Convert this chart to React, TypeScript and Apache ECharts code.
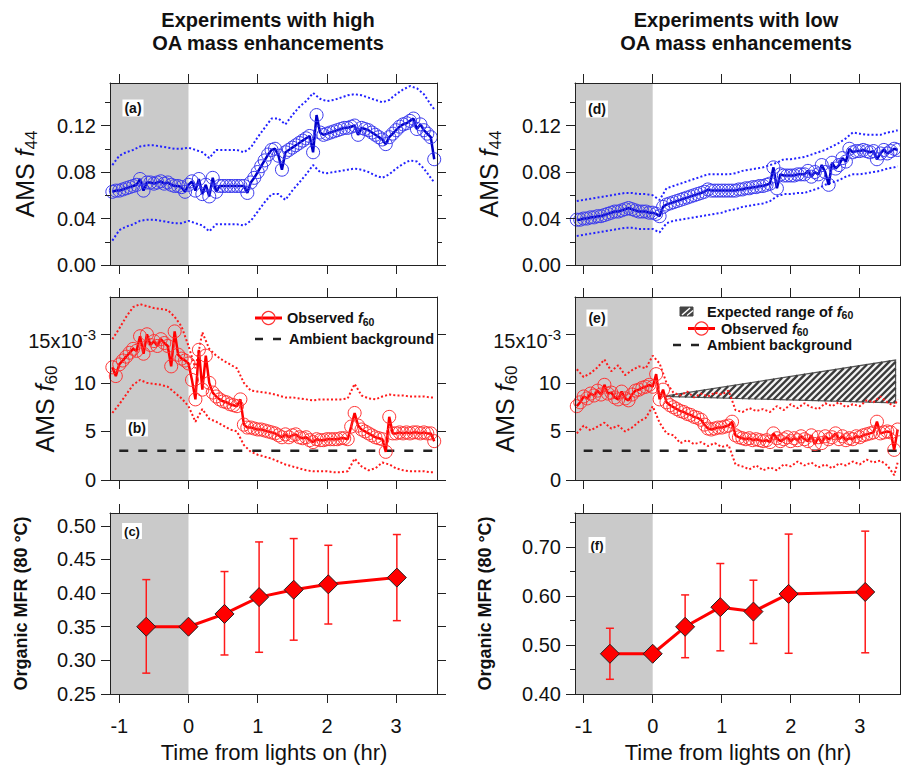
import React, { useEffect, useRef } from "react";
import * as echarts from "echarts";

const FONT = "'Liberation Sans', Arial, Helvetica, sans-serif";

// ---------- time grids (hr from lights on) ----------
const tFine = [
  -1.10, -1.05, -1.00, -0.95, -0.90, -0.85, -0.80, -0.75, -0.70, -0.65,
  -0.60, -0.55, -0.50, -0.45, -0.40, -0.35, -0.30, -0.25, -0.20, -0.15,
  -0.10, -0.05, 0.00, 0.05, 0.10, 0.15, 0.20, 0.25, 0.30, 0.35,
  0.40, 0.45, 0.50, 0.55, 0.60, 0.65, 0.70, 0.75, 0.80, 0.85,
  0.90, 0.95, 1.00, 1.05, 1.10, 1.15, 1.20, 1.25, 1.30, 1.35,
  1.40, 1.45, 1.50, 1.55, 1.60, 1.65, 1.70, 1.75, 1.80, 1.85,
  1.90, 1.95, 2.00, 2.05, 2.10, 2.15, 2.20, 2.25, 2.30, 2.35,
  2.40, 2.45, 2.50, 2.55, 2.60, 2.65, 2.70, 2.75, 2.80, 2.85,
  2.90, 2.95, 3.00, 3.05, 3.10, 3.15, 3.20, 3.25, 3.30, 3.35,
  3.40, 3.45, 3.50, 3.55,
];
const tCoarse = [
  -1.1, -1.0, -0.9, -0.8, -0.7, -0.6, -0.5, -0.4, -0.3, -0.2,
  -0.1, 0.0, 0.1, 0.2, 0.3, 0.4, 0.5, 0.6, 0.7, 0.8,
  0.9, 1.0, 1.1, 1.2, 1.3, 1.4, 1.5, 1.6, 1.7, 1.8,
  1.9, 2.0, 2.1, 2.2, 2.3, 2.4, 2.5, 2.6, 2.7, 2.8,
  2.9, 3.0, 3.1, 3.2, 3.3, 3.4, 3.5,
  3.55,
];

// ---------- (a) f44, high OA ----------
const f44High = [
  0.063, 0.064, 0.064, 0.065, 0.066, 0.067, 0.068, 0.069, 0.074, 0.064,
  0.071, 0.071, 0.070, 0.071, 0.072, 0.070, 0.071, 0.069, 0.068, 0.068,
  0.067, 0.063, 0.069, 0.072, 0.064, 0.074, 0.061, 0.069, 0.059, 0.075,
  0.063, 0.068, 0.068, 0.068, 0.068, 0.068, 0.068, 0.068, 0.068, 0.062,
  0.071, 0.075, 0.080, 0.085, 0.090, 0.095, 0.099, 0.100, 0.094, 0.082,
  0.097, 0.099, 0.101, 0.103, 0.105, 0.107, 0.109, 0.111, 0.097, 0.129,
  0.114, 0.112, 0.113, 0.114, 0.115, 0.116, 0.117, 0.118, 0.118, 0.119,
  0.120, 0.112, 0.118, 0.117, 0.116, 0.114, 0.112, 0.110, 0.108, 0.104,
  0.110, 0.113, 0.116, 0.119, 0.121, 0.122, 0.124, 0.126, 0.117, 0.121,
  0.116, 0.113, 0.110, 0.091,
];
const f44HighUpper = [
  0.086, 0.094, 0.097, 0.099, 0.102, 0.103, 0.103, 0.102, 0.101, 0.100,
  0.100, 0.101, 0.099, 0.097, 0.092, 0.099, 0.099, 0.099, 0.099, 0.097,
  0.101, 0.110, 0.118, 0.126, 0.126, 0.121, 0.129, 0.136, 0.141, 0.148,
  0.143, 0.141, 0.142, 0.144, 0.146, 0.147, 0.146, 0.144, 0.142, 0.140,
  0.142, 0.147, 0.151, 0.154, 0.152, 0.147, 0.138,
  0.134,
];
const f44HighLower = [
  0.021, 0.030, 0.033, 0.035, 0.038, 0.039, 0.039, 0.038, 0.037, 0.036,
  0.036, 0.038, 0.036, 0.034, 0.029, 0.035, 0.035, 0.035, 0.035, 0.034,
  0.038, 0.046, 0.054, 0.061, 0.061, 0.056, 0.064, 0.071, 0.078, 0.086,
  0.080, 0.079, 0.080, 0.081, 0.082, 0.083, 0.082, 0.080, 0.077, 0.075,
  0.078, 0.083, 0.087, 0.090, 0.089, 0.083, 0.075,
  0.071,
];

// ---------- (b) f60 (x10^-3), high OA ----------
const f60High = [
  11.6, 10.7, 11.9, 12.3, 12.7, 13.1, 13.5, 13.3, 14.8, 13.0,
  15.0, 13.9, 14.3, 13.8, 14.5, 14.1, 13.8, 11.7, 15.3, 12.9,
  12.5, 12.3, 12.0, 10.3, 8.3, 13.4, 9.3, 12.8, 10.0, 9.0,
  8.6, 8.3, 8.1, 8.0, 7.8, 7.7, 7.6, 8.3, 5.7, 5.4,
  5.4, 5.3, 5.2, 5.2, 5.1, 5.0, 4.9, 4.8, 4.6, 4.4,
  4.7, 4.4, 4.6, 4.7, 4.4, 4.3, 4.4, 4.1, 3.9, 4.2,
  4.1, 4.1, 4.2, 4.2, 4.2, 4.2, 4.3, 4.3, 4.2, 5.5,
  6.9, 5.6, 5.2, 5.0, 4.8, 4.6, 4.4, 4.3, 4.2, 2.9,
  6.5, 4.8, 4.8, 4.9, 4.8, 4.9, 4.8, 4.9, 4.9, 4.8,
  4.9, 4.8, 4.8, 4.0,
];
const f60HighUpper = [
  14.5, 15.6, 16.8, 17.8, 18.1, 17.9, 17.7, 17.6, 17.5, 16.8,
  15.8, 13.8, 11.5, 15.2, 13.5, 12.8, 12.3, 11.9, 11.5, 10.0,
  9.2, 9.1, 9.0, 8.9, 8.7, 8.5, 8.5, 8.4, 8.3, 8.2,
  8.3, 8.3, 8.3, 8.3, 8.4, 9.9, 8.7, 8.4, 8.3, 8.6,
  8.8, 8.7, 8.7, 8.6, 8.6, 8.6, 8.5,
  8.5,
];
const f60HighLower = [
  6.9, 7.8, 8.8, 9.8, 10.3, 10.0, 9.9, 9.8, 9.6, 9.0,
  8.4, 7.6, 6.0, 7.3, 6.3, 6.0, 5.6, 5.2, 5.0, 3.6,
  2.9, 2.6, 2.4, 2.2, 1.9, 1.6, 1.4, 1.2, 1.0, 0.9,
  0.9, 0.9, 0.8, 0.8, 0.9, 2.2, 1.4, 1.0, 1.2, 1.8,
  1.6, 1.2, 1.0, 0.9, 0.9, 0.9, 0.8,
  0.8,
];

// ---------- (d) f44, low OA ----------
const f44Low = [
  0.039, 0.039, 0.040, 0.040, 0.041, 0.041, 0.042, 0.042, 0.043, 0.044,
  0.045, 0.046, 0.046, 0.047, 0.048, 0.049, 0.048, 0.047, 0.046, 0.046,
  0.046, 0.045, 0.045, 0.044, 0.042, 0.050, 0.052, 0.053, 0.054, 0.055,
  0.056, 0.057, 0.058, 0.059, 0.060, 0.061, 0.062, 0.063, 0.065, 0.064,
  0.064, 0.064, 0.064, 0.064, 0.064, 0.064, 0.064, 0.065, 0.065, 0.066,
  0.066, 0.067, 0.067, 0.068, 0.068, 0.069, 0.070, 0.084, 0.066, 0.078,
  0.077, 0.077, 0.077, 0.077, 0.078, 0.078, 0.078, 0.081, 0.076, 0.080,
  0.078, 0.086, 0.080, 0.069, 0.088, 0.083, 0.086, 0.092, 0.089, 0.100,
  0.097, 0.098, 0.098, 0.099, 0.098, 0.097, 0.098, 0.091, 0.096, 0.099,
  0.096, 0.098, 0.100, 0.099,
];
const f44LowUpper = [
  0.055, 0.056, 0.057, 0.058, 0.059, 0.060, 0.061, 0.062, 0.062, 0.061,
  0.061, 0.060, 0.056, 0.066, 0.068, 0.070, 0.072, 0.074, 0.076, 0.078,
  0.078, 0.078, 0.078, 0.079, 0.081, 0.082, 0.083, 0.084, 0.086, 0.088,
  0.091, 0.091, 0.092, 0.093, 0.095, 0.097, 0.099, 0.102, 0.105, 0.109,
  0.114, 0.113, 0.112, 0.112, 0.112, 0.114, 0.115,
  0.116,
];
const f44LowLower = [
  0.025, 0.026, 0.027, 0.028, 0.029, 0.030, 0.031, 0.032, 0.032, 0.031,
  0.031, 0.031, 0.028, 0.036, 0.038, 0.039, 0.040, 0.041, 0.042, 0.043,
  0.044, 0.045, 0.047, 0.048, 0.050, 0.051, 0.052, 0.053, 0.055, 0.059,
  0.061, 0.061, 0.062, 0.062, 0.064, 0.066, 0.069, 0.071, 0.073, 0.076,
  0.078, 0.078, 0.079, 0.080, 0.081, 0.083, 0.084,
  0.085,
];

// ---------- (e) f60 (x10^-3), low OA ----------
const f60Low = [
  7.6, 8.0, 8.6, 8.4, 8.9, 8.7, 9.2, 8.8, 9.8, 8.9,
  9.0, 8.5, 8.3, 9.1, 8.4, 8.2, 8.8, 9.2, 9.3, 9.5,
  9.6, 9.8, 9.6, 10.9, 8.3, 9.3, 8.0, 7.7, 7.5, 7.3,
  7.1, 7.0, 6.8, 6.7, 6.5, 6.4, 6.2, 5.7, 5.3, 5.2,
  5.3, 5.4, 5.4, 5.5, 5.6, 6.0, 4.6, 4.4, 4.3, 4.2,
  4.3, 4.1, 4.2, 4.1, 4.0, 4.1, 3.9, 4.8, 4.3, 4.0,
  4.2, 4.4, 4.0, 4.3, 4.1, 4.5, 4.2, 4.0, 4.6, 3.7,
  4.4, 3.8, 4.5, 4.2, 4.4, 4.8, 4.2, 4.5, 4.1, 4.3,
  4.2, 4.5, 4.4, 4.6, 4.7, 4.8, 4.9, 6.0, 4.8, 4.9,
  5.0, 4.9, 3.1, 5.2,
];
const f60LowUpper = [
  11.4, 10.6, 11.0, 11.6, 12.4, 11.2, 11.8, 10.8, 11.3, 11.7,
  11.5, 12.8, 12.0, 10.0, 9.0, 8.7, 9.1, 8.5, 8.9, 8.6,
  9.0, 8.8, 9.2, 7.2, 7.0, 7.4, 7.1, 7.3, 7.0, 7.6,
  7.2, 7.8, 7.4, 7.9, 7.5, 7.3, 7.9, 7.6, 8.0, 7.5,
  7.8, 7.6, 8.2, 8.0, 8.6, 8.0, 7.6,
  8.3,
];
const f60LowLower = [
  4.8, 5.6, 5.1, 5.5, 5.9, 5.3, 5.6, 5.0, 5.4, 6.0,
  6.4, 7.6, 5.9, 4.8, 4.6, 3.8, 4.1, 3.7, 3.9, 3.5,
  3.8, 3.4, 3.6, 1.6, 1.4, 1.1, 1.5, 1.0, 1.3, 1.0,
  1.6, 1.4, 1.9, 1.5, 1.8, 1.3, 1.6, 1.2, 1.7, 1.5,
  1.9, 1.6, 2.1, 1.8, 2.0, 1.5, 0.5,
  1.8,
];

// ambient background level of f60 (x10^-3)
const ambientT = [-1.0, 3.6];
const ambientHigh = [3.0, 3.0];
const ambientLow = [3.0, 3.0];

// expected range of f60 (triangle): start point, end top, end bottom
const expectedStart = [0.15, 8.6];
const expectedEnd = [3.52, 12.35, 7.94];

// ---------- (c) / (f) Organic MFR ----------
const mfrHighT = [-0.61, 0.0, 0.52, 1.02, 1.52, 2.02, 3.01];
const mfrHigh = [0.350, 0.350, 0.369, 0.394, 0.405, 0.413, 0.423];
const mfrHighLo = [0.281, null, 0.308, 0.312, 0.330, 0.354, 0.359];
const mfrHighHi = [0.420, null, 0.432, 0.476, 0.481, 0.471, 0.487];

const mfrLowT = [-0.62, 0.0, 0.47, 0.98, 1.46, 1.97, 3.08];
const mfrLow = [0.482, 0.482, 0.537, 0.577, 0.568, 0.604, 0.608];
const mfrLowLo = [0.430, null, 0.474, 0.488, 0.503, 0.483, 0.484];
const mfrLowHi = [0.534, null, 0.602, 0.666, 0.632, 0.726, 0.732];

// ---------- ticks ----------
const xTicks = [-1, 0, 1, 2, 3];
const f44Ticks = [0, 0.04, 0.08, 0.12];
const f44Minor = [0.02, 0.06, 0.1, 0.14];
const f60Ticks = [0, 5, 10, 15];
const mfrHighTicks = [0.25, 0.3, 0.35, 0.4, 0.45, 0.5];
const mfrLowTicks = [0.4, 0.5, 0.6, 0.7];
const mfrLowMinor = [0.45, 0.55, 0.65, 0.75];

const GRAY = "#cacaca";
const AX = "#222";
const BLUE_LINE = "#0000c8";
const BLUE_SYM = "#3a3aee";
const BLUE_DOT = "#2222ff";
const RED_LINE = "#ff0000";
const RED_SYM = "#ff3333";
const RED_DOT = "#ff1a1a";

const zip = (xs: number[], ys: (number | null)[]) => xs.map((x, i) => [x, ys[i]]);

function buildOption() {
  const xRangeL = [-1.134, 3.59];
  const xRangeR = [-1.126, 3.584];
  const grids = [
    { left: 110, top: 83, width: 327, height: 182 },
    { left: 110, top: 297, width: 327, height: 183 },
    { left: 110, top: 513, width: 327, height: 181 },
    { left: 575, top: 83, width: 325, height: 182 },
    { left: 575, top: 297, width: 325, height: 183 },
    { left: 575, top: 513, width: 325, height: 181 },
  ];
  const fmt2 = (v: number) => v.toFixed(2);
  const fmt60 = (v: number) => (v === 15 ? "{m|15x10}{sup|-3}" : String(v));
  const yCfg = [
    { min: 0, max: 0.1566, major: f44Ticks, minor: f44Minor, fmt: fmt2 },
    { min: 0, max: 18.84, major: f60Ticks, minor: [], fmt: fmt60 },
    { min: 0.25, max: 0.519, major: mfrHighTicks, minor: [], fmt: fmt2 },
    { min: 0, max: 0.1566, major: f44Ticks, minor: f44Minor, fmt: fmt2 },
    { min: 0, max: 18.84, major: f60Ticks, minor: [], fmt: fmt60 },
    { min: 0.4, max: 0.769, major: mfrLowTicks, minor: mfrLowMinor, fmt: fmt2 },
  ];
  const lineStyle = { color: AX, width: 1 };
  const labelRich = {
    m: { fontSize: 20, fontFamily: FONT, color: "#111", lineHeight: 20, verticalAlign: "bottom" },
    sup: { fontSize: 15, fontFamily: FONT, color: "#111", lineHeight: 33 },
  };

  const xAxis: any[] = [];
  const yAxis: any[] = [];
  grids.forEach((_, g) => {
    const range = g < 3 ? xRangeL : xRangeR;
    const showLabels = g === 2 || g === 5;
    const base = {
      type: "value", gridIndex: g, min: range[0], max: range[1], z: 10,
      splitLine: { show: false },
      axisLine: { show: true, onZero: false, lineStyle },
    };
    xAxis.push({
      ...base, position: "bottom",
      axisTick: { show: true, inside: false, length: 9, lineStyle, customValues: xTicks },
      axisLabel: {
        show: showLabels, customValues: xTicks, margin: 22, fontSize: 20,
        fontFamily: FONT, color: "#111", formatter: (v: number) => String(v),
      },
    });
    xAxis.push({
      ...base, position: "top",
      axisTick: { show: true, inside: false, length: 9, lineStyle, customValues: xTicks },
      axisLabel: { show: false },
    });
    const c = yCfg[g];
    const yb = {
      type: "value", gridIndex: g, min: c.min, max: c.max, z: 10,
      splitLine: { show: false },
    };
    const hasMinor = c.minor.length > 0;
    yAxis.push({
      ...yb, position: "left",
      axisLine: { show: true, onZero: false, lineStyle },
      axisTick: { show: true, inside: false, length: 9, lineStyle, customValues: c.major },
      axisLabel: {
        show: true, customValues: c.major, formatter: c.fmt, margin: 14,
        fontSize: 20, fontFamily: FONT, color: "#111", rich: labelRich,
      },
    });
    yAxis.push({
      ...yb, position: "left",
      axisLine: { show: false, onZero: false },
      axisTick: { show: hasMinor, inside: false, length: 5, lineStyle, customValues: hasMinor ? c.minor : c.major },
      axisLabel: { show: false },
    });
    yAxis.push({
      ...yb, position: "right",
      axisLine: { show: true, onZero: false, lineStyle },
      axisTick: { show: true, inside: false, length: 9, lineStyle, customValues: c.major },
      axisLabel: { show: false },
    });
    yAxis.push({
      ...yb, position: "right",
      axisLine: { show: false, onZero: false },
      axisTick: { show: hasMinor, inside: false, length: 5, lineStyle, customValues: hasMinor ? c.minor : c.major },
      axisLabel: { show: false },
    });
  });

  const shade = (g: number) => ({
    type: "line", xAxisIndex: 2 * g, yAxisIndex: 4 * g, data: [], silent: true, z: 1,
    markArea: {
      silent: true, itemStyle: { color: GRAY },
      data: [[{ xAxis: g < 3 ? xRangeL[0] : xRangeR[0] }, { xAxis: 0 }]],
    },
  });
  const bound = (g: number, vs: number[], color: string) => ({
    type: "line", xAxisIndex: 2 * g, yAxisIndex: 4 * g, data: zip(tCoarse, vs),
    symbol: "none", showSymbol: false, silent: true, z: 3,
    lineStyle: { color, width: 2, type: [2, 2.2] },
  });
  const main = (g: number, vs: number[], lc: string, sc: string) => ({
    type: "line", xAxisIndex: 2 * g, yAxisIndex: 4 * g, data: zip(tFine, vs),
    symbol: "circle", symbolSize: 13, showSymbol: true, silent: true, z: 4,
    itemStyle: { color: "rgba(0,0,0,0)", borderColor: sc, borderWidth: 1 },
    lineStyle: { color: lc, width: 2.5 },
  });
  const ambient = (g: number, vs: number[]) => ({
    type: "line", xAxisIndex: 2 * g, yAxisIndex: 4 * g, data: zip(ambientT, vs),
    symbol: "none", silent: true, z: 3,
    lineStyle: { color: "#222", width: 2.5, type: [9, 10] },
  });
  const errBars = (g: number, ts: number[], lo: (number | null)[], hi: (number | null)[]) => ({
    type: "custom", xAxisIndex: 2 * g, yAxisIndex: 4 * g, silent: true, z: 3,
    data: ts.map((t, i) => [t, lo[i], hi[i]]).filter((d) => d[1] != null),
    encode: { x: 0, y: [1, 2] },
    renderItem: (_p: any, api: any) => {
      const x = api.value(0);
      const a = api.coord([x, api.value(1)]);
      const b = api.coord([x, api.value(2)]);
      const w = 4;
      const st = { stroke: "#ff1a1a", lineWidth: 1.5 };
      return {
        type: "group",
        children: [
          { type: "line", shape: { x1: a[0], y1: a[1], x2: b[0], y2: b[1] }, style: st },
          { type: "line", shape: { x1: a[0] - w, y1: a[1], x2: a[0] + w, y2: a[1] }, style: st },
          { type: "line", shape: { x1: b[0] - w, y1: b[1], x2: b[0] + w, y2: b[1] }, style: st },
        ],
      };
    },
  });
  const mfrLine = (g: number, ts: number[], vs: number[]) => ({
    type: "line", xAxisIndex: 2 * g, yAxisIndex: 4 * g, data: zip(ts, vs),
    symbol: "diamond", symbolSize: 19, showSymbol: true, silent: true, z: 4,
    itemStyle: { color: "#ff0000", borderColor: "#222", borderWidth: 1 },
    lineStyle: { color: "#ff0000", width: 3 },
  });
  const hatch = (g: number) => ({
    type: "custom", xAxisIndex: 2 * g, yAxisIndex: 4 * g, silent: true, z: 2,
    data: [[expectedStart[0], expectedStart[1], expectedEnd[0], expectedEnd[1], expectedEnd[2]]],
    encode: { x: [0, 2], y: [1, 3, 4] },
    renderItem: (_p: any, api: any) => {
      const A = api.coord([api.value(0), api.value(1)]);
      const B = api.coord([api.value(2), api.value(3)]);
      const C = api.coord([api.value(2), api.value(4)]);
      const pts = [A, B, C];
      const sums = pts.map((p: number[]) => p[0] + p[1]);
      const cMin = Math.min(...sums);
      const cMax = Math.max(...sums);
      const children: any[] = [
        { type: "polygon", shape: { points: pts }, style: { fill: "#f4f4f4", stroke: "#555", lineWidth: 1.2 } },
      ];
      for (let c = cMin + 3; c < cMax; c += 6.5) {
        const hits: number[][] = [];
        for (let i = 0; i < 3; i++) {
          const P = pts[i];
          const Q = pts[(i + 1) % 3];
          const fp = P[0] + P[1] - c;
          const fq = Q[0] + Q[1] - c;
          if ((fp <= 0 && fq > 0) || (fp > 0 && fq <= 0)) {
            const t = fp / (fp - fq);
            hits.push([P[0] + t * (Q[0] - P[0]), P[1] + t * (Q[1] - P[1])]);
          }
        }
        if (hits.length >= 2) {
          children.push({
            type: "line",
            shape: { x1: hits[0][0], y1: hits[0][1], x2: hits[1][0], y2: hits[1][1] },
            style: { stroke: "#3a3a3a", lineWidth: 2.3 },
          });
        }
      }
      return { type: "group", children };
    },
  });

  const series: any[] = [
    // (a)
    shade(0), bound(0, f44HighUpper, BLUE_DOT), bound(0, f44HighLower, BLUE_DOT),
    main(0, f44High, BLUE_LINE, BLUE_SYM),
    // (b)
    shade(1), ambient(1, ambientHigh), bound(1, f60HighUpper, RED_DOT), bound(1, f60HighLower, RED_DOT),
    main(1, f60High, RED_LINE, RED_SYM),
    // (c)
    shade(2), errBars(2, mfrHighT, mfrHighLo, mfrHighHi), mfrLine(2, mfrHighT, mfrHigh),
    // (d)
    shade(3), bound(3, f44LowUpper, BLUE_DOT), bound(3, f44LowLower, BLUE_DOT),
    main(3, f44Low, BLUE_LINE, BLUE_SYM),
    // (e)
    shade(4), hatch(4), ambient(4, ambientLow), bound(4, f60LowUpper, RED_DOT), bound(4, f60LowLower, RED_DOT),
    main(4, f60Low, RED_LINE, RED_SYM),
    // (f)
    shade(5), errBars(5, mfrLowT, mfrLowLo, mfrLowHi), mfrLine(5, mfrLowT, mfrLow),
  ];

  const nameRich = (size: number, sub: number) => ({
    n: { fontSize: size, fontFamily: FONT, fill: "#111", lineHeight: size + 4 },
    i: { fontSize: size, fontFamily: FONT, fill: "#111", lineHeight: size + 4, fontStyle: "italic" },
    s: { fontSize: sub, fontFamily: FONT, fill: "#111", lineHeight: 11, verticalAlign: "bottom" },
  });
  const legRich = {
    b: { fontSize: 14.5, fontWeight: "bold", fontFamily: FONT, fill: "#111", lineHeight: 18 },
    i: { fontSize: 14.5, fontWeight: "bold", fontStyle: "italic", fontFamily: FONT, fill: "#111", lineHeight: 18 },
    s: { fontSize: 10.5, fontWeight: "bold", fontFamily: FONT, fill: "#111", lineHeight: 8, verticalAlign: "bottom" },
  };
  const yName = (x: number, y: number, text: string) => ({
    type: "text", x, y, rotation: Math.PI / 2, z: 20,
    style: { text, rich: nameRich(25, 17), align: "center", verticalAlign: "middle", fill: "#111" },
  });
  const mfrName = (x: number, y: number) => ({
    type: "text", x, y, rotation: Math.PI / 2, z: 20,
    style: {
      text: "Organic MFR (80 °C)", fontSize: 18, fontWeight: "bold", fontFamily: FONT,
      align: "center", verticalAlign: "middle", fill: "#111",
    },
  });
  const panelLabel = (x: number, y: number, text: string, size: number) => ({
    type: "text", x, y, z: 20,
    style: {
      text, fontSize: size, fontWeight: "bold", fontFamily: FONT, fill: "#111",
      align: "center", verticalAlign: "middle", backgroundColor: "#fff", padding: [2, 2, 1, 2],
    },
  });
  const title = (x: number, text: string) => ({
    type: "text", x, y: 31.5, z: 20,
    style: {
      text, fontSize: 20, fontWeight: "bold", fontFamily: FONT, fill: "#111",
      align: "center", verticalAlign: "middle", lineHeight: 23,
    },
  });
  const xName = (x: number) => ({
    type: "text", x, y: 752, z: 20,
    style: {
      text: "Time from lights on (hr)", fontSize: 22, fontFamily: FONT, fill: "#111",
      align: "center", verticalAlign: "middle",
    },
  });
  const legText = (x: number, y: number, text: string) => ({
    type: "text", x, y, z: 20,
    style: { text, rich: legRich, align: "left", verticalAlign: "middle" },
  });
  const obsIcon = (x1: number, x2: number, y: number) => [
    { type: "line", z: 20, shape: { x1, y1: y, x2, y2: y }, style: { stroke: "#ff0000", lineWidth: 3 } },
    { type: "circle", z: 21, shape: { cx: (x1 + x2) / 2, cy: y, r: 6.5 }, style: { fill: "none", stroke: "#ff3333", lineWidth: 1.2 } },
  ];
  const dashIcon = (x1: number, x2: number, y: number) => ({
    type: "line", z: 20, shape: { x1, y1: y, x2, y2: y },
    style: { stroke: "#222", lineWidth: 2.5, lineDash: [8, 10] },
  });

  const graphic: any[] = [
    title(268, "Experiments with high\nOA mass enhancements"),
    title(736, "Experiments with low\nOA mass enhancements"),
    yName(25, 174, "{n|AMS }{i|f}{s|44}"),
    yName(489, 174, "{n|AMS }{i|f}{s|44}"),
    yName(45, 409, "{n|AMS }{i|f}{s|60}"),
    yName(505, 409, "{n|AMS }{i|f}{s|60}"),
    mfrName(21, 603.5),
    mfrName(485, 603.5),
    xName(274),
    xName(738),
    panelLabel(133, 108, "(a)", 14),
    panelLabel(137, 428, "(b)", 14),
    panelLabel(132, 531, "(c)", 13),
    panelLabel(597, 109, "(d)", 14),
    panelLabel(597, 318, "(e)", 14),
    panelLabel(597, 545, "(f)", 13),
    // legend (b)
    ...obsIcon(255, 282, 318),
    legText(287, 318, "{b|Observed }{i|f}{s|60}"),
    dashIcon(255, 282, 339),
    legText(289, 339, "{b|Ambient background}"),
    // legend (e)
    { type: "rect", z: 20, shape: { x: 680, y: 307, width: 13, height: 9 }, style: { fill: "#444", stroke: "#444", lineWidth: 1 } },
    { type: "line", z: 21, shape: { x1: 682, y1: 315, x2: 690, y2: 308 }, style: { stroke: "#fff", lineWidth: 1.5 } },
    { type: "line", z: 21, shape: { x1: 687, y1: 315.5, x2: 693, y2: 310.5 }, style: { stroke: "#fff", lineWidth: 1.2 } },
    legText(707, 311.5, "{b|Expected range of }{i|f}{s|60}"),
    ...obsIcon(688, 715, 328.5),
    legText(721, 328.5, "{b|Observed }{i|f}{s|60}"),
    dashIcon(673, 700, 345),
    legText(707, 345, "{b|Ambient background}"),
  ];

  return {
    animation: false,
    backgroundColor: "#ffffff",
    grid: grids,
    xAxis,
    yAxis,
    series,
    graphic,
  };
}

export default function App() {
  const ref = useRef<HTMLDivElement>(null);
  useEffect(() => {
    document.body.style.margin = "0";
    if (!ref.current) return;
    const chart = echarts.init(ref.current, undefined, { renderer: "svg" });
    chart.setOption(buildOption() as any);
    return () => chart.dispose();
  }, []);
  return <div ref={ref} style={{ width: 901, height: 770 }} />;
}
